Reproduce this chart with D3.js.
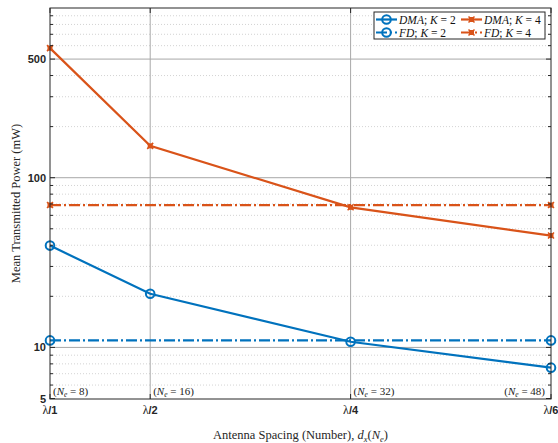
<!DOCTYPE html>
<html>
<head>
<meta charset="utf-8">
<script src="https://d3js.org/d3.v7.min.js"></script>
<style>
  body { margin: 0; background: #fff; }
  .serif { font-family: "Liberation Serif", "DejaVu Serif", serif; }
  .tick-lab { font-family: "Liberation Sans", Arial, sans-serif; font-weight: bold; font-size: 11px; fill: #262626; }
</style>
</head>
<body>
<script>
// data
const elements = [8, 16, 32, 48];
const spacingLabels = ["1", "2", "4", "6"];
const dmaK2 = [39.8, 20.7, 10.8, 7.6];
const dmaK4 = [580, 154, 66.9, 45.6];
const fdX = [8, 48];
const fdK2 = [11.0, 11.0];
const fdK4 = [69, 69];
const yTicks = [5, 10, 100, 500];

const W = 558, H = 443;
const m = { left: 50, right: 7, top: 8, bottom: 44 };
const blue = "#0072BD", orange = "#D95319";
const dashDot = "11,3,2,3";

const svg = d3.select("body").append("svg")
  .attr("width", W).attr("height", H);

const x = d3.scaleLinear().domain([8, 48]).range([m.left, W - m.right]);
const y = d3.scaleLog().domain([5, 1000]).range([H - m.bottom - 0.5, m.top]);

const x0 = m.left, x1 = W - m.right, y0 = H - m.bottom, y1 = m.top;

// minor grid (dotted)
const minor = [];
for (const d of [1, 10, 100]) for (let k = 2; k <= 9; k++) {
  const v = k * d;
  if (v > 5 && v < 1000 && v !== 10 && v !== 100 && v !== 500) minor.push(v);
}
const grid = svg.append("g");
grid.selectAll(".mg").data(minor).join("line")
  .attr("x1", x0).attr("x2", x1)
  .attr("y1", d => y(d)).attr("y2", d => y(d))
  .attr("stroke", "#c8c8c8").attr("stroke-width", 0.8)
  .attr("stroke-dasharray", "1,2");
// major grid
grid.selectAll(".hg").data([10, 100, 500]).join("line")
  .attr("x1", x0).attr("x2", x1)
  .attr("y1", d => y(d)).attr("y2", d => y(d))
  .attr("stroke", "#a8a8a8").attr("stroke-width", 1);
grid.selectAll(".vg").data([16, 32]).join("line")
  .attr("x1", d => x(d)).attr("x2", d => x(d))
  .attr("y1", y0).attr("y2", y1)
  .attr("stroke", "#a8a8a8").attr("stroke-width", 1);

// element annotations
const ann = svg.append("g").attr("class", "serif").attr("font-size", 11).attr("fill", "#222");
elements.forEach((n, i) => {
  const t = ann.append("text")
    .attr("x", i === 3 ? x(n) - 6 : x(n) + 3)
    .attr("y", y0 - 4)
    .attr("text-anchor", i === 3 ? "end" : "start");
  t.append("tspan").text("(");
  t.append("tspan").attr("font-style", "italic").text("N");
  t.append("tspan").attr("font-size", 7.5).attr("dy", 2).attr("font-style", "italic").text("e");
  t.append("tspan").attr("dy", -2).text(" = " + n + ")");
});

// series
const line = d3.line().x(d => x(d[0])).y(d => y(d[1]));
function series(xs, ys, color, dash, marker) {
  const pts = xs.map((v, i) => [v, ys[i]]);
  svg.append("path").datum(pts).attr("d", line)
    .attr("fill", "none").attr("stroke", color).attr("stroke-width", 2.2)
    .attr("stroke-dasharray", dash);
  const g = svg.append("g");
  pts.forEach(p => drawMarker(g, x(p[0]), y(p[1]), color, marker));
}
function drawMarker(g, cx, cy, color, marker) {
  if (marker === "o") {
    g.append("circle").attr("cx", cx).attr("cy", cy).attr("r", 4.3)
      .attr("fill", "none").attr("stroke", color).attr("stroke-width", 2);
  } else {
    g.append("rect").attr("x", cx - 2.5).attr("y", cy - 2.5).attr("width", 5).attr("height", 5)
      .attr("fill", color);
    g.append("path").attr("d", `M${cx-3},${cy-3}L${cx+3},${cy+3}M${cx-3},${cy+3}L${cx+3},${cy-3}`)
      .attr("stroke", color).attr("stroke-width", 1.5);
  }
}
series(fdX, fdK4, orange, dashDot, "x");
series(fdX, fdK2, blue, dashDot, "o");
series(elements, dmaK4, orange, null, "x");
series(elements, dmaK2, blue, null, "o");

// axes box
const ax = "#262626";
svg.append("rect").attr("x", x0).attr("y", y1).attr("width", x1 - x0).attr("height", y0 - y1)
  .attr("fill", "none").attr("stroke", ax).attr("stroke-width", 1);

// y ticks (major + minor, inside, both sides)
const allMinor = minor.concat([6, 7, 8, 9].filter(v => !minor.includes(v)));
svg.selectAll(".yt").data(yTicks).join("path")
  .attr("d", d => `M${x0},${y(d)}h5M${x1},${y(d)}h-5`)
  .attr("stroke", ax);
svg.selectAll(".ymt").data(allMinor).join("path")
  .attr("d", d => `M${x0},${y(d)}h3M${x1},${y(d)}h-3`)
  .attr("stroke", ax);
svg.selectAll(".yl").data(yTicks).join("text")
  .attr("class", "tick-lab")
  .attr("x", x0 - 4).attr("y", d => y(d) + 4)
  .attr("text-anchor", "end").text(d => d);

// x ticks
svg.selectAll(".xt").data(elements).join("path")
  .attr("d", d => `M${x(d)},${y0}v-5M${x(d)},${y1}v5`)
  .attr("stroke", ax);
const xl = svg.selectAll(".xl").data(elements).join("text")
  .attr("x", d => x(d)).attr("y", y0 + 15)
  .attr("text-anchor", "middle");
xl.append("tspan").attr("class", "serif").attr("font-size", 12).attr("fill", "#262626").text("λ");
xl.append("tspan").attr("class", "tick-lab").text((d, i) => "/" + spacingLabels[i]);

// axis titles
const xt = svg.append("text").attr("class", "serif").attr("font-size", 12.5).attr("fill", "#262626")
  .attr("x", (x0 + x1) / 2).attr("y", 439).attr("text-anchor", "middle");
xt.append("tspan").text("Antenna Spacing (Number), ");
xt.append("tspan").attr("font-style", "italic").text("d");
xt.append("tspan").attr("font-style", "italic").attr("font-size", 8.5).attr("dy", 3).text("x");
xt.append("tspan").attr("dy", -3).text("(");
xt.append("tspan").attr("font-style", "italic").text("N");
xt.append("tspan").attr("font-style", "italic").attr("font-size", 8.5).attr("dy", 3).text("e");
xt.append("tspan").attr("dy", -3).text(")");

svg.append("text").attr("class", "serif").attr("font-size", 12.5).attr("fill", "#262626")
  .attr("transform", `translate(20,${(y0 + y1) / 2}) rotate(-90)`)
  .attr("text-anchor", "middle").text("Mean Transmitted Power (mW)");

// legend
const lg = svg.append("g").attr("class", "serif").attr("font-size", 11.5);
lg.append("rect").attr("x", 374).attr("y", 12).attr("width", 171).attr("height", 27)
  .attr("fill", "#fff").attr("stroke", ax).attr("stroke-width", 1);
const entries = [
  { name: "DMA", k: 2, color: blue, dash: null, m: "o", cx: 376, cy: 19.5 },
  { name: "DMA", k: 4, color: orange, dash: null, m: "x", cx: 461, cy: 19.5 },
  { name: "FD", k: 2, color: blue, dash: dashDot, m: "o", cx: 376, cy: 32.5 },
  { name: "FD", k: 4, color: orange, dash: dashDot, m: "x", cx: 461, cy: 32.5 }
];
entries.forEach(e => {
  lg.append("line").attr("x1", e.cx).attr("x2", e.cx + 21).attr("y1", e.cy).attr("y2", e.cy)
    .attr("stroke", e.color).attr("stroke-width", 2.2).attr("stroke-dasharray", e.dash);
  drawMarker(lg, e.cx + 10.5, e.cy, e.color, e.m);
  const t = lg.append("text").attr("x", e.cx + 23).attr("y", e.cy + 4).attr("fill", "#111");
  t.append("tspan").attr("font-style", "italic").text(e.name);
  t.append("tspan").text("; ");
  t.append("tspan").attr("font-style", "italic").text("K");
  t.append("tspan").text(" = " + e.k);
});
</script>
</body>
</html>
